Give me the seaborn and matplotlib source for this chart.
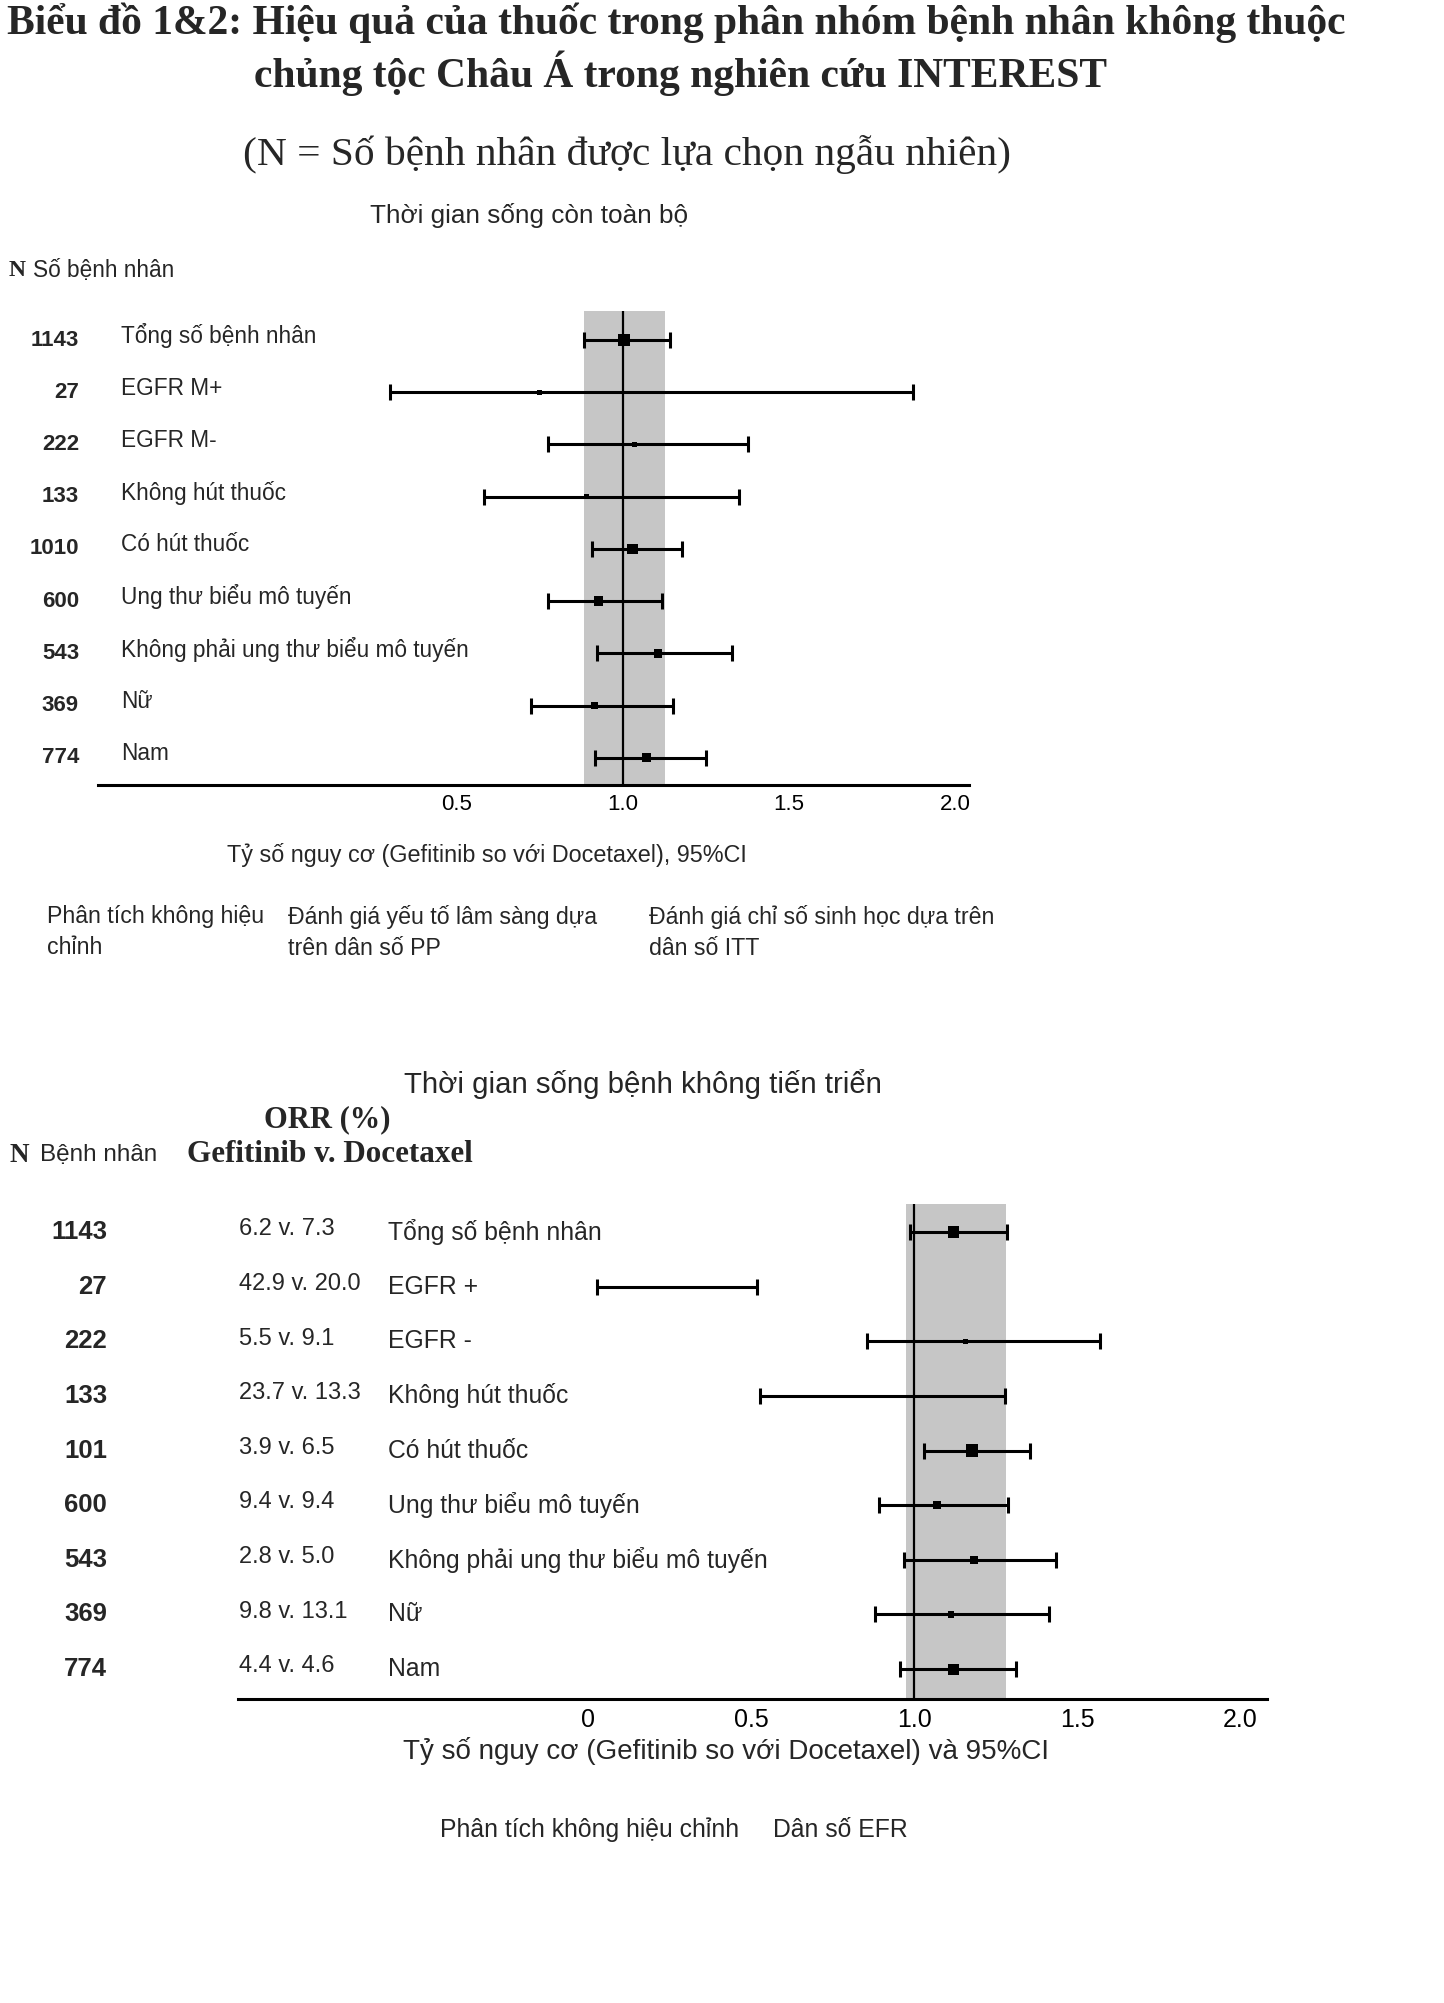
import numpy as np
import pandas as pd
import matplotlib
matplotlib.use("Agg")
import matplotlib.pyplot as plt
import matplotlib.transforms as mtransforms
import seaborn as sns

# ---------------- data ----------------
title_lines = ["Biểu đồ 1&2: Hiệu quả của thuốc trong phân nhóm bệnh nhân không thuộc",
               "chủng tộc Châu Á trong nghiên cứu INTEREST"]
subtitle = "(N = Số bệnh nhân được lựa chọn ngẫu nhiên)"

# Chart 1: overall survival
os_title = "Thời gian sống còn toàn bộ"
os_n = ["1143", "27", "222", "133", "1010", "600", "543", "369", "774"]
os_labels = ["Tổng số bệnh nhân", "EGFR M+", "EGFR M-", "Không hút thuốc", "Có hút thuốc",
             "Ung thư biểu mô tuyến", "Không phải ung thư biểu mô tuyến", "Nữ", "Nam"]
os_hr = [1.004, 0.75, 1.034, 0.89, 1.029, 0.927, 1.105, 0.914, 1.071]
os_lo = [0.883, 0.30, 0.774, 0.584, 0.908, 0.774, 0.921, 0.724, 0.916]
os_hi = [1.142, 1.874, 1.377, 1.35, 1.178, 1.117, 1.327, 1.151, 1.249]
os_weight = [5, 0.6, 0.8, 0.8, 4, 3.5, 2.5, 1.5, 3]
os_band = [0.883, 1.128]
os_ticks = [0.5, 1.0, 1.5, 2.0]
os_ticklabels = ["0.5", "1.0", "1.5", "2.0"]
os_xlabel = "Tỷ số nguy cơ (Gefitinib so với Docetaxel), 95%CI"
os_notes = ["Phân tích không hiệu\nchỉnh", "Đánh giá yếu tố lâm sàng dựa\ntrên dân số PP",
            "Đánh giá chỉ số sinh học dựa trên\ndân số ITT"]

# Chart 2: progression-free survival
pfs_title = "Thời gian sống bệnh không tiến triển"
pfs_n = ["1143", "27", "222", "133", "101", "600", "543", "369", "774"]
pfs_orr = ["6.2 v. 7.3", "42.9 v. 20.0", "5.5 v. 9.1", "23.7 v. 13.3", "3.9 v. 6.5",
           "9.4 v. 9.4", "2.8 v. 5.0", "9.8 v. 13.1", "4.4 v. 4.6"]
pfs_labels = ["Tổng số bệnh nhân", "EGFR +", "EGFR -", "Không hút thuốc", "Có hút thuốc",
              "Ung thư biểu mô tuyến", "Không phải ung thư biểu mô tuyến", "Nữ", "Nam"]
pfs_hr = [1.12, np.nan, 1.156, np.nan, 1.176, 1.069, 1.184, 1.112, 1.12]
pfs_lo = [0.987, 0.028, 0.855, 0.528, 1.031, 0.893, 0.969, 0.878, 0.957]
pfs_hi = [1.283, 0.518, 1.569, 1.278, 1.355, 1.288, 1.434, 1.413, 1.311]
pfs_weight = [5, 0, 0.6, 0, 6, 2, 2.5, 1.5, 4.5]
pfs_band = [0.974, 1.281]
pfs_ticks = [0, 0.5, 1.0, 1.5, 2.0]
pfs_ticklabels = ["0", "0.5", "1.0", "1.5", "2.0"]
pfs_xlabel = "Tỷ số nguy cơ (Gefitinib so với Docetaxel) và 95%CI"
pfs_notes = ["Phân tích không hiệu chỉnh", "Dân số EFR"]

# ---------------- figure ----------------
sns.set_theme(style="white")
SANS = ["Liberation Sans", "DejaVu Sans"]
SERIF = ["Liberation Serif", "DejaVu Serif"]
plt.rcParams["font.family"] = SANS

W, H = 1444, 2003
fig = plt.figure(figsize=(W / 100, H / 100), dpi=100)


def fx(px):
    return px / W


def fy(py):
    return 1 - py / H


def ftext(x, y, s, **kw):
    fig.text(fx(x), fy(y), s, **kw)


# titles
ftext(676, 23, title_lines[0], ha="center", va="center", family=SERIF, fontweight="bold", fontsize=29.9)
ftext(680, 73, title_lines[1], ha="center", va="center", family=SERIF, fontweight="bold", fontsize=29.9)
ftext(627, 155, subtitle, ha="center", va="center", family=SERIF, fontsize=29.8)


def forest(ax_rect, ylim, xlim, hr, lo, hi, weight, band, ticks, ticklabels,
           tick_fs, cap_ms, lw):
    ax = fig.add_axes(ax_rect)
    rows = np.arange(len(lo))
    ax.axvspan(band[0], band[1], color="#c6c6c6", lw=0, zorder=0)
    ax.axvline(1.0, color="black", lw=1.6, zorder=1)
    ax.hlines(rows, lo, hi, color="black", lw=lw, zorder=2)
    ax.plot(lo, rows, ls="none", marker="|", ms=cap_ms, mew=lw, color="black", zorder=2)
    ax.plot(hi, rows, ls="none", marker="|", ms=cap_ms, mew=lw, color="black", zorder=2)
    df = pd.DataFrame({"hr": hr, "row": rows, "w": weight}).dropna()
    df = df[df["w"] > 0]
    sns.scatterplot(data=df, x="hr", y="row", size="w", sizes=(4, 80), size_norm=(0, 6),
                    marker="s", color="black", edgecolor="black", linewidth=0,
                    legend=False, ax=ax, zorder=3)
    ax.set_xlim(*xlim)
    ax.set_ylim(*ylim)
    ax.set_xticks(ticks)
    ax.set_xticklabels(ticklabels)
    ax.set_yticks([])
    ax.set_xlabel("")
    ax.set_ylabel("")
    for s in ["top", "left", "right"]:
        ax.spines[s].set_visible(False)
    ax.spines["bottom"].set_color("black")
    ax.spines["bottom"].set_linewidth(2.2)
    ax.tick_params(axis="x", length=0, pad=7, labelsize=tick_fs, colors="black")
    ax.patch.set_alpha(0)
    return ax


# ---------------- chart 1 ----------------
ftext(529, 216, os_title, ha="center", va="center", fontsize=18.8)
ftext(9, 270, "N", ha="left", va="center", family=SERIF, fontweight="bold", fontsize=17)
ftext(33, 270, "Số bệnh nhân", ha="left", va="center", fontsize=16.3)

ax1 = forest([fx(98.4), fy(784.7), fx(968.7) - fx(98.4), fy(310.6) - fy(784.7)],
             (8.514, -0.563), (-0.577, 2.04), os_hr, os_lo, os_hi, os_weight, os_band,
             os_ticks, os_ticklabels, 16, 11, 2.2)
tr1 = mtransforms.blended_transform_factory(fig.transFigure, ax1.transData)
for i in range(len(os_n)):
    ax1.text(fx(79), i, os_n[i], transform=tr1, ha="right", va="center",
             fontsize=16, fontweight="bold")
    ax1.text(fx(121), i - 0.08, os_labels[i], transform=tr1, ha="left", va="center", fontsize=16.3)

ftext(487, 855, os_xlabel, ha="center", va="center", fontsize=16.8)
for x, note in zip([47, 288, 649], os_notes):
    ftext(x, 905, note, ha="left", va="top", fontsize=16.7, linespacing=1.45)

# ---------------- chart 2 ----------------
ftext(643, 1084, pfs_title, ha="center", va="center", fontsize=21.2)
ftext(327, 1120, "ORR (%)", ha="center", va="center", family=SERIF, fontweight="bold", fontsize=22)
ftext(10, 1155, "N", ha="left", va="center", family=SERIF, fontweight="bold", fontsize=19.5)
ftext(40, 1155, "Bệnh nhân", ha="left", va="center", fontsize=17.5)
ftext(187, 1155, "Gefitinib v. Docetaxel", ha="left", va="center", family=SERIF,
      fontweight="bold", fontsize=22.4)

ax2 = forest([fx(237.7), fy(1698.5), fx(1266.5) - fx(237.7), fy(1203.9) - fy(1698.5)],
             (8.538, -0.515), (-1.075, 2.08), pfs_hr, pfs_lo, pfs_hi, pfs_weight, pfs_band,
             pfs_ticks, pfs_ticklabels, 18, 11, 2.2)
tr2 = mtransforms.blended_transform_factory(fig.transFigure, ax2.transData)
for i in range(len(pfs_n)):
    ax2.text(fx(107), i, pfs_n[i], transform=tr2, ha="right", va="center",
             fontsize=18.5, fontweight="bold")
    ax2.text(fx(239), i - 0.05, pfs_orr[i], transform=tr2, ha="left", va="center", fontsize=17)
    ax2.text(fx(388.5), i, pfs_labels[i], transform=tr2, ha="left", va="center", fontsize=17.8)

ftext(726, 1751, pfs_xlabel, ha="center", va="center", fontsize=20)
ftext(440, 1830, pfs_notes[0], ha="left", va="center", fontsize=17.8)
ftext(773, 1830, pfs_notes[1], ha="left", va="center", fontsize=17.8)

fig.savefig("out.png", dpi=100, facecolor="white")
